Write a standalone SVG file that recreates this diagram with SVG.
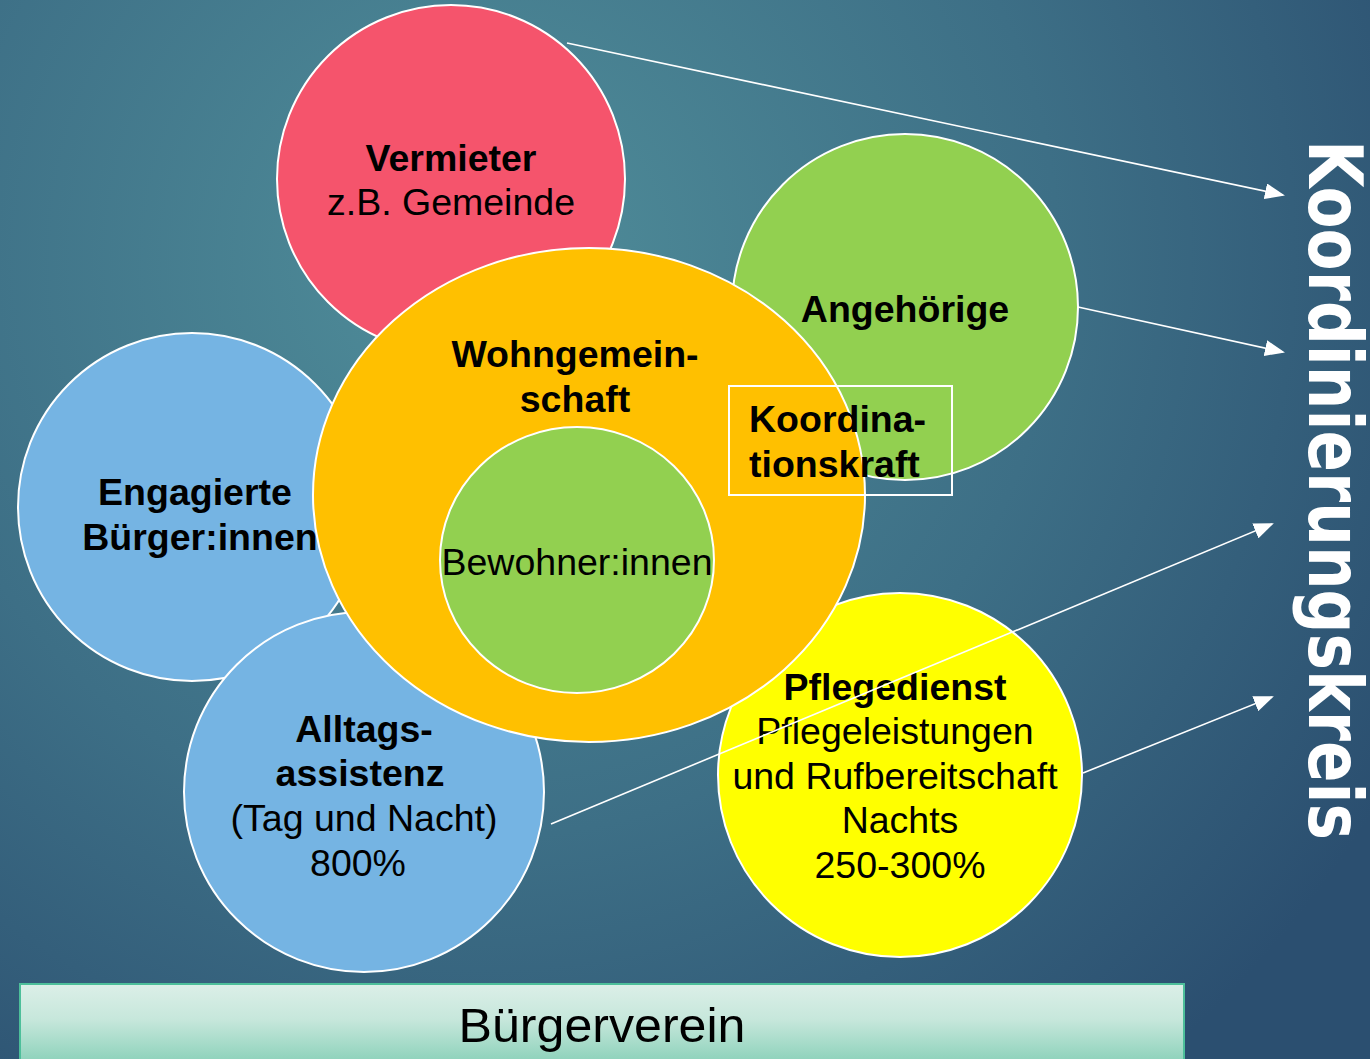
<svg xmlns="http://www.w3.org/2000/svg" width="1370" height="1059" viewBox="0 0 1370 1059">
<defs>
<radialGradient id="bg" cx="480" cy="260" r="1050" gradientUnits="userSpaceOnUse">
<stop offset="0" stop-color="#508e9a"/>
<stop offset="0.55" stop-color="#3d6f86"/>
<stop offset="1" stop-color="#2b4f70"/>
</radialGradient>
<linearGradient id="bv" x1="0" y1="0" x2="0" y2="1">
<stop offset="0" stop-color="#dcefe8"/>
<stop offset="0.4" stop-color="#c6e7db"/>
<stop offset="1" stop-color="#7ccbb1"/>
</linearGradient>
<marker id="ah2" markerWidth="20" markerHeight="16" refX="18" refY="8" orient="auto" markerUnits="userSpaceOnUse" viewBox="0 0 20 16">
<path d="M0,0 L20,8 L0,16 Z" fill="#ffffff"/>
</marker>
</defs>
<style>
.c{stroke:#ffffff;stroke-width:2}
.t{font-family:"Liberation Sans",Arial,sans-serif;font-size:37.5px;fill:#000;text-anchor:middle}
.b{font-weight:bold}
.cn{stroke:#ffffff;stroke-width:1.6;fill:none}
</style>
<rect x="0" y="0" width="1370" height="1059" fill="url(#bg)"/>

<g id="vermieter">
<circle class="c" cx="451" cy="179" r="174" fill="#f5546c"/>
<text class="t b" x="451" y="171">Vermieter</text>
<text class="t" x="451" y="215">z.B. Gemeinde</text>
</g>
<g id="angehoerige">
<circle class="c" cx="905" cy="307" r="173" fill="#92d050"/>
<text class="t b" x="905" y="322">Angehörige</text>
</g>
<g id="engagierte">
<circle class="c" cx="192" cy="507" r="174" fill="#75b4e3"/>
<text class="t b" x="195" y="505">Engagierte</text>
<text class="t b" x="200" y="550">Bürger:innen</text>
</g>
<g id="alltagsassistenz">
<circle class="c" cx="364" cy="792" r="180" fill="#75b4e3"/>
<text class="t b" x="364" y="742">Alltags-</text>
<text class="t b" x="360" y="786">assistenz</text>
<text class="t" x="364" y="831">(Tag und Nacht)</text>
<text class="t" x="358" y="876">800%</text>
</g>
<g id="pflegedienst">
<circle class="c" cx="900" cy="775" r="182" fill="#ffff00"/>
</g>
<g id="wohngemeinschaft">
<ellipse class="c" cx="589" cy="495" rx="276" ry="247" fill="#ffc000"/>
<text class="t b" x="575" y="367">Wohngemein-</text>
<text class="t b" x="575" y="412">schaft</text>
</g>
<g id="bewohner">
<ellipse class="c" cx="577" cy="560" rx="137" ry="133" fill="#92d050"/>
<text class="t" x="577" y="575">Bewohner:innen</text>
</g>
<g id="pflegedienst-text">
<text class="t b" x="895" y="700">Pflegedienst</text>
<text class="t" x="895" y="744">Pflegeleistungen</text>
<text class="t" x="895" y="789">und Rufbereitschaft</text>
<text class="t" x="900" y="833">Nachts</text>
<text class="t" x="900" y="878">250-300%</text>
</g>
<g id="koordinationskraft">
<rect x="729" y="386" width="223" height="109" fill="none" stroke="#ffffff" stroke-width="2"/>
<text class="t b" x="749" y="432" style="text-anchor:start">Koordina-</text>
<text class="t b" x="749" y="477" style="text-anchor:start">tionskraft</text>
</g>

<g id="connectors">
<line class="cn" x1="567" y1="43" x2="1283" y2="195" marker-end="url(#ah2)"/>
<line class="cn" x1="1078" y1="307" x2="1283" y2="352" marker-end="url(#ah2)"/>
<line class="cn" x1="551" y1="824" x2="1272" y2="524" marker-end="url(#ah2)"/>
<line class="cn" x1="1083" y1="773" x2="1272" y2="697" marker-end="url(#ah2)"/>
</g>

<g id="koordinierungskreis">
<text transform="translate(1309,140) rotate(90)" x="0" y="0" font-family="'DejaVu Sans','Liberation Sans',sans-serif" font-weight="bold" font-size="74" fill="#ffffff" textLength="700" lengthAdjust="spacingAndGlyphs">Koordinierungskreis</text>
</g>

<g id="buergerverein">
<rect x="20" y="984" width="1164" height="90" fill="url(#bv)" stroke="#4dbf9a" stroke-width="2"/>
<text x="602" y="1042" font-family="'Liberation Sans',Arial,sans-serif" font-size="48" fill="#000" text-anchor="middle" textLength="287" lengthAdjust="spacingAndGlyphs">Bürgerverein</text>
</g>
</svg>
